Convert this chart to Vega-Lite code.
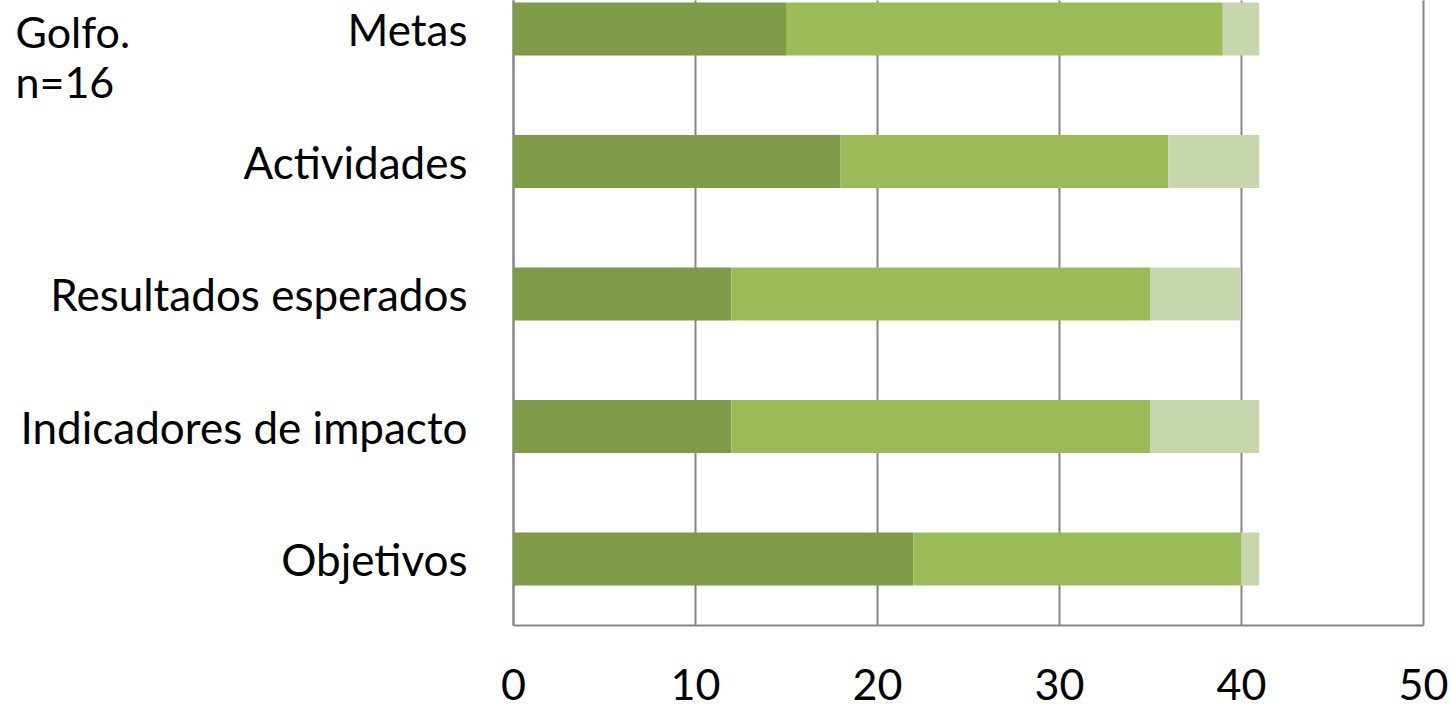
{
  "$schema": "https://vega.github.io/schema/vega-lite/v6.json",
  "autosize": "none",
  "width": 910,
  "height": 625,
  "padding": {"left": 513, "top": 0, "right": 28, "bottom": 80},
  "background": "white",
  "config": {
    "view": {"stroke": null},
    "font": "Lato"
  },
  "data": {
    "values": [
      {"cat": "Metas", "grupo": "A", "ord": 1, "v": 15},
      {"cat": "Metas", "grupo": "B", "ord": 2, "v": 24},
      {"cat": "Metas", "grupo": "C", "ord": 3, "v": 2},
      {"cat": "Actividades", "grupo": "A", "ord": 1, "v": 18},
      {"cat": "Actividades", "grupo": "B", "ord": 2, "v": 18},
      {"cat": "Actividades", "grupo": "C", "ord": 3, "v": 5},
      {"cat": "Resultados esperados", "grupo": "A", "ord": 1, "v": 12},
      {"cat": "Resultados esperados", "grupo": "B", "ord": 2, "v": 23},
      {"cat": "Resultados esperados", "grupo": "C", "ord": 3, "v": 5},
      {"cat": "Indicadores de impacto", "grupo": "A", "ord": 1, "v": 12},
      {"cat": "Indicadores de impacto", "grupo": "B", "ord": 2, "v": 23},
      {"cat": "Indicadores de impacto", "grupo": "C", "ord": 3, "v": 6},
      {"cat": "Objetivos", "grupo": "A", "ord": 1, "v": 22},
      {"cat": "Objetivos", "grupo": "B", "ord": 2, "v": 18},
      {"cat": "Objetivos", "grupo": "C", "ord": 3, "v": 1}
    ]
  },
  "mark": {"type": "bar"},
  "encoding": {
    "y": {
      "field": "cat",
      "type": "nominal",
      "sort": ["Metas", "Actividades", "Resultados esperados", "Indicadores de impacto", "Objetivos"],
      "scale": {"paddingInner": 0.6, "paddingOuter": 0.1585, "align": 0.06},
      "axis": {
        "title": ["Golfo.", "n=16"],
        "titleX": -498,
        "titleY": 47,
        "titleAngle": 0,
        "titleAlign": "left",
        "titleBaseline": "alphabetic",
        "titleFontSize": 43,
        "titleFontWeight": "normal",
        "titleColor": "black",
        "titleLineHeight": 50,
        "titleFont": "Lato",
        "labelFontSize": 44,
        "labelColor": "black",
        "labelPadding": 46,
        "labelOffset": 4,
        "labelLimit": 600,
        "ticks": false,
        "tickSize": 0,
        "domainColor": "#868686",
        "domainWidth": 2,
        "grid": false
      }
    },
    "x": {
      "field": "v",
      "type": "quantitative",
      "stack": "zero",
      "scale": {"domain": [0, 50], "nice": false},
      "axis": {
        "title": null,
        "values": [0, 10, 20, 30, 40, 50],
        "labelFontSize": 43,
        "labelColor": "black",
        "labelBaseline": "alphabetic",
        "labelPadding": 74,
        "labelFlush": false,
        "ticks": false,
        "tickSize": 0,
        "domainColor": "#868686",
        "domainWidth": 2,
        "grid": true,
        "gridColor": "#868686",
        "gridWidth": 2
      }
    },
    "color": {
      "field": "grupo",
      "type": "nominal",
      "scale": {"domain": ["A", "B", "C"], "range": ["#7f9a48", "#9bbb59", "#c7d6ad"]},
      "legend": null
    },
    "order": {"field": "ord", "type": "quantitative"}
  }
}
